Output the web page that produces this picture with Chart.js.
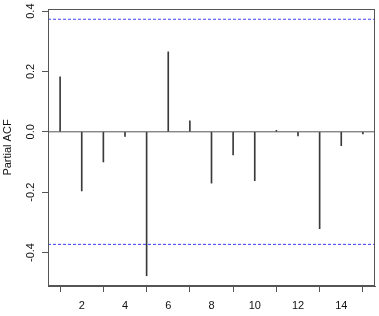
<!DOCTYPE html>
<html>
<head>
<meta charset="utf-8">
<script src="https://cdn.jsdelivr.net/npm/chart.js@4/dist/chart.umd.min.js"></script>
<style>
  html, body { margin: 0; padding: 0; background: #fff; }
  #wrap { width: 379px; height: 316px; }
</style>
</head>
<body>
<div id="wrap"><canvas id="c" width="379" height="316"></canvas></div>
<script>
// ---- data ----
const lags = [1, 2, 3, 4, 5, 6, 7, 8, 9, 10, 11, 12, 13, 14, 15];
const pacfValues = [0.182, -0.196, -0.100, -0.015, -0.477, 0.265, 0.036, -0.170, -0.077, -0.162, 0.005, -0.014, -0.321, -0.046, -0.007];
const confLimit = 0.373;
const xTickValues = [2, 4, 6, 8, 10, 12, 14];
const yTickValues = [-0.4, -0.2, 0.0, 0.2, 0.4];
const xRange = [0.44, 15.56];
const yRange = [-0.511, 0.407];
const yTitle = 'Partial ACF';

const boxColor = '#555555';

const boxPlugin = {
  id: 'box',
  afterDatasetsDraw(chart) {
    const { ctx, chartArea: a } = chart;
    ctx.save();
    ctx.strokeStyle = boxColor;
    ctx.lineWidth = 1;
    ctx.strokeRect(Math.round(a.left) + 0.5, Math.round(a.top) + 0.5,
                   Math.round(a.right - a.left) - 1, Math.round(a.bottom - a.top) - 1);
    ctx.restore();
  }
};

new Chart(document.getElementById('c'), {
  type: 'bar',
  data: {
    datasets: [
      {
        type: 'line',
        data: [{ x: xRange[0], y: 0 }, { x: xRange[1], y: 0 }],
        borderColor: boxColor, borderWidth: 1, pointRadius: 0, fill: false
      },
      {
        type: 'line',
        data: [{ x: xRange[0], y: confLimit }, { x: xRange[1], y: confLimit }],
        borderColor: '#3c3cff', borderWidth: 1, borderDash: [3, 2], pointRadius: 0, fill: false
      },
      {
        type: 'line',
        data: [{ x: xRange[0], y: -confLimit }, { x: xRange[1], y: -confLimit }],
        borderColor: '#3c3cff', borderWidth: 1, borderDash: [3, 2], pointRadius: 0, fill: false
      },
      {
        type: 'bar',
        data: lags.map((l, i) => ({ x: l, y: [0, pacfValues[i]] })),
        backgroundColor: '#3a3a3a',
        borderWidth: 0,
        barThickness: 1,
        grouped: false
      }
    ]
  },
  options: {
    responsive: false,
    devicePixelRatio: 1,
    animation: false,
    layout: { padding: { top: 9, right: 4, left: 0, bottom: 0 } },
    plugins: { legend: { display: false }, tooltip: { enabled: false } },
    scales: {
      x: {
        type: 'linear',
        min: xRange[0], max: xRange[1],
        offset: false,
        afterBuildTicks(s) { s.ticks = xTickValues.map(v => ({ value: v })); },
        afterFit(s) { s.height = 30; },
        grid: { display: true, drawOnChartArea: false, drawTicks: true, tickLength: 6, color: boxColor },
        border: { display: true, color: boxColor },
        ticks: {
          color: '#111', padding: 7, maxRotation: 0, autoSkip: false,
          font: { family: 'Liberation Sans, Arial', size: 11 },
          callback: v => String(v)
        }
      },
      y: {
        type: 'linear',
        min: yRange[0], max: yRange[1],
        afterBuildTicks(s) { s.ticks = yTickValues.map(v => ({ value: v })); },
        afterFit(s) { s.width = 48; },
        grid: { display: true, drawOnChartArea: false, drawTicks: true, tickLength: 6, color: boxColor },
        border: { display: true, color: boxColor },
        title: {
          display: true, text: yTitle, color: '#111',
          font: { family: 'Liberation Sans, Arial', size: 11 },
          padding: { top: 1, bottom: 0 }
        },
        ticks: {
          color: '#111', padding: 2, minRotation: 90, maxRotation: 90,
          crossAlign: 'center', autoSkip: false,
          font: { family: 'Liberation Sans, Arial', size: 11 },
          callback: v => v.toFixed(1)
        }
      }
    }
  },
  plugins: [boxPlugin]
});
</script>
</body>
</html>
